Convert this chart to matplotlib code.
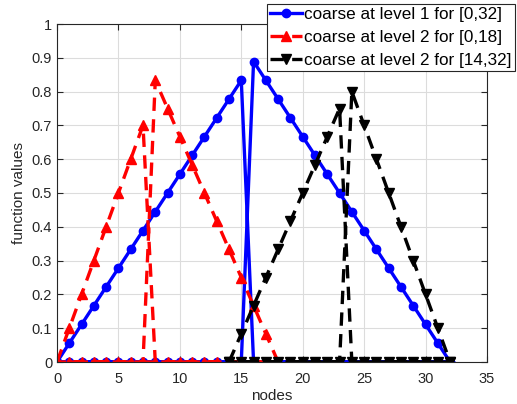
import matplotlib
matplotlib.use("Agg")
import matplotlib.pyplot as plt

plt.rcParams['font.family'] = ['Liberation Sans', 'DejaVu Sans']

# Node indices for each series (each basis piece is listed over its node range)
blue_nodes = list(range(0, 33))
blue_left = [0, 1/18, 2/18, 3/18, 4/18, 5/18, 6/18, 7/18, 8/18, 9/18, 10/18, 11/18,
             12/18, 13/18, 14/18, 15/18] + [0] * 17
blue_right = [0] * 16 + [16/18, 15/18, 14/18, 13/18, 12/18, 11/18, 10/18, 9/18, 8/18,
                         7/18, 6/18, 5/18, 4/18, 3/18, 2/18, 1/18, 0]

red_nodes = list(range(0, 19))
red_left = [0, 0.1, 0.2, 0.3, 0.4, 0.5, 0.6, 0.7] + [0] * 11
red_right = [0] * 8 + [10/12, 9/12, 8/12, 7/12, 6/12, 5/12, 4/12, 3/12, 2/12, 1/12, 0]

black_nodes = list(range(14, 33))
black_left = [0, 1/12, 2/12, 3/12, 4/12, 5/12, 6/12, 7/12, 8/12, 9/12] + [0] * 9
black_right = [0] * 10 + [0.8, 0.7, 0.6, 0.5, 0.4, 0.3, 0.2, 0.1, 0]

labels = ['coarse at level 1 for [0,32]',
          'coarse at level 2 for [0,18]',
          'coarse at level 2 for [14,32]']

fig = plt.figure(figsize=(5.17, 4.04), dpi=100)
ax = fig.add_axes([57/517, (404-362)/404, 430/517, 338/404])

ax.plot(blue_nodes + blue_nodes, blue_left + blue_right, color='#0000ff', lw=2.4,
        marker='o', ms=6, mfc='#0000ff', mec='#0000ff', label=labels[0])
ax.plot(red_nodes + red_nodes, red_left + red_right, color='#ff0000', lw=2.4,
        ls=(0, (4, 2.5)), marker='^', ms=7, mfc='#ff0000', mec='#ff0000', label=labels[1])
ax.plot(black_nodes + black_nodes, black_left + black_right, color='black', lw=2.4,
        ls=(0, (4, 2.5)), marker='v', ms=7, mfc='black', mec='black', label=labels[2])

ax.set_xlim(0, 35)
ax.set_ylim(0, 1)
ax.set_xticks([0, 5, 10, 15, 20, 25, 30, 35])
ax.set_yticks([0, 0.1, 0.2, 0.3, 0.4, 0.5, 0.6, 0.7, 0.8, 0.9, 1])
ax.set_yticklabels(['0', '0.1', '0.2', '0.3', '0.4', '0.5', '0.6', '0.7', '0.8', '0.9', '1'])
ax.grid(True, color='#dcdcdc', lw=0.8)
ax.set_axisbelow(True)
ax.tick_params(direction='in', top=True, right=True, labelsize=10.5, colors='#262626',
               length=4)
ax.tick_params(axis='x', pad=7)
for s in ax.spines.values():
    s.set_color('#262626')
    s.set_linewidth(0.8)
ax.set_xlabel('nodes', fontsize=11, color='#262626', labelpad=2)
ax.set_ylabel('function values', fontsize=11, color='#262626', labelpad=4)

leg = ax.legend(loc='upper right', bbox_to_anchor=(1.0 + 28/430, 1.0 + 20/338),
                fontsize=12.3, frameon=True, fancybox=False, edgecolor='#262626',
                framealpha=1, borderpad=0.2, labelspacing=0.45, handlelength=1.9,
                handletextpad=0.1, borderaxespad=0)
leg.get_frame().set_linewidth(0.8)

fig.savefig('out.png', dpi=100)
